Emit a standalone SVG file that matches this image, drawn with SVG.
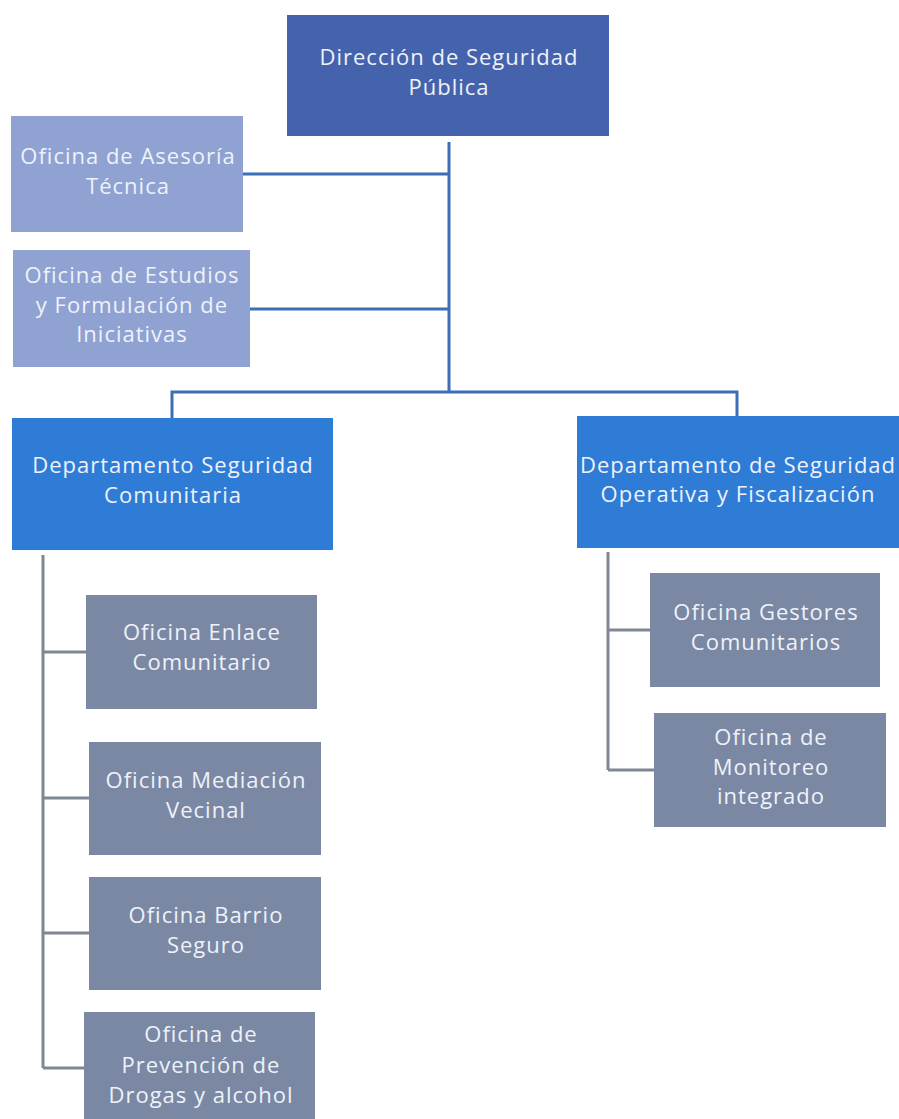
<svg xmlns="http://www.w3.org/2000/svg" width="899" height="1119" viewBox="0 0 899 1119">
<style>
text{font-family:"Open Sans",Lato,"Liberation Sans",sans-serif;font-size:22px;letter-spacing:1px;fill:#eef2fa;text-anchor:middle}
.top{fill:#4563ad}
.lb{fill:#8fa2d2}
.dep{fill:#2f7cd7}
.gr{fill:#7b88a3}
.cb{stroke:#3a6eb7;stroke-width:3;fill:none}
.cg{stroke:#7f8795;stroke-width:3;fill:none}
</style>
<rect width="899" height="1119" fill="#ffffff"/>
<g id="connectors">
<path class="cb" d="M449 142V392M243 174H449M250 309H449M172 418V392H737V418"/>
<path class="cg" d="M43 555V1068M43 652H86M43 798H89M43 933H89M43 1068H84"/>
<path class="cg" d="M608 552V770M608 630H650M608 770H654"/>
</g>
<g id="n-direccion"><rect class="top" x="287" y="15" width="322" height="121"/>
<text x="449" y="65">Dirección de Seguridad</text><text x="449" y="95">Pública</text></g>
<g id="n-asesoria"><rect class="lb" x="11" y="116" width="232" height="116"/>
<text x="128" y="164">Oficina de Asesoría</text><text x="128" y="194">Técnica</text></g>
<g id="n-estudios"><rect class="lb" x="13" y="250" width="237" height="117"/>
<text x="132" y="283">Oficina de Estudios</text><text x="132" y="313">y Formulación de</text><text x="132" y="342">Iniciativas</text></g>
<g id="n-dep-comunitaria"><rect class="dep" x="12" y="418" width="321" height="132"/>
<text x="173" y="473">Departamento Seguridad</text><text x="173" y="503">Comunitaria</text></g>
<g id="n-dep-operativa"><rect class="dep" x="577" y="416" width="322" height="132"/>
<text x="738" y="473">Departamento de Seguridad</text><text x="738" y="502">Operativa y Fiscalización</text></g>
<g id="n-enlace"><rect class="gr" x="86" y="595" width="231" height="114"/>
<text x="202" y="640">Oficina Enlace</text><text x="202" y="670">Comunitario</text></g>
<g id="n-mediacion"><rect class="gr" x="89" y="742" width="232" height="113"/>
<text x="206" y="788">Oficina Mediación</text><text x="206" y="818">Vecinal</text></g>
<g id="n-barrio"><rect class="gr" x="89" y="877" width="232" height="113"/>
<text x="206" y="923">Oficina Barrio</text><text x="206" y="953">Seguro</text></g>
<g id="n-prevencion"><rect class="gr" x="84" y="1012" width="231" height="107"/>
<text x="201" y="1042">Oficina de</text><text x="201" y="1073">Prevención de</text><text x="201" y="1103">Drogas y alcohol</text></g>
<g id="n-gestores"><rect class="gr" x="650" y="573" width="230" height="114"/>
<text x="766" y="620">Oficina Gestores</text><text x="766" y="650">Comunitarios</text></g>
<g id="n-monitoreo"><rect class="gr" x="654" y="713" width="232" height="114"/>
<text x="771" y="745">Oficina de</text><text x="771" y="775">Monitoreo</text><text x="771" y="804">integrado</text></g>
</svg>
